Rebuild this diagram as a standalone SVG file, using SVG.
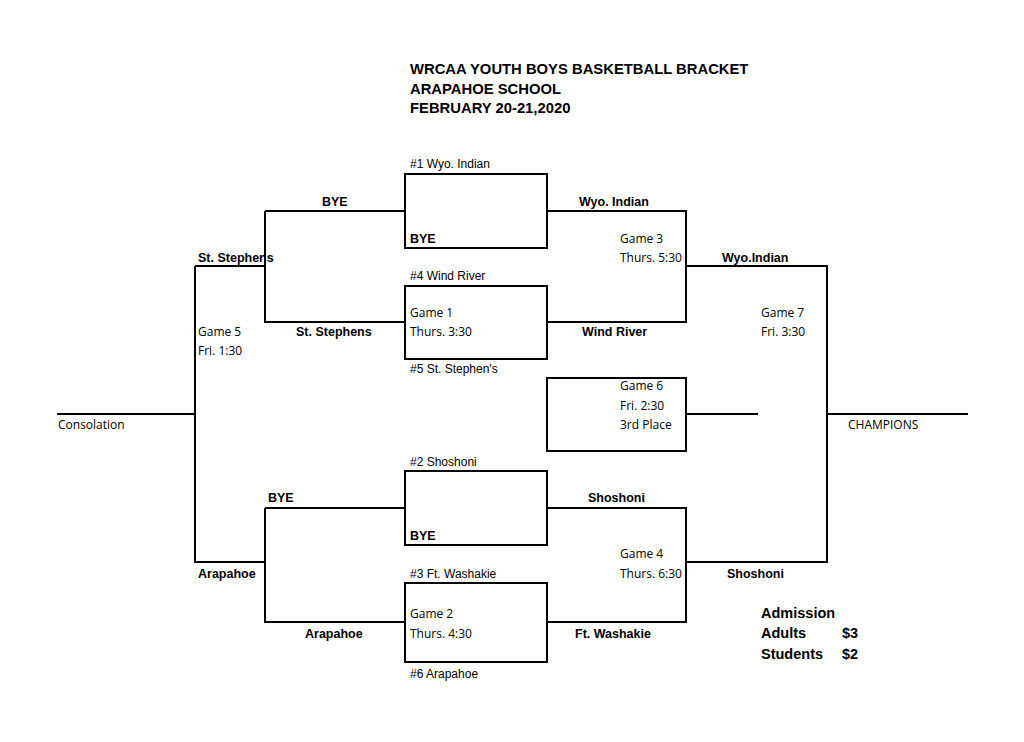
<svg xmlns="http://www.w3.org/2000/svg" width="1024" height="742" viewBox="0 0 1024 742">
<style>
text{font-family:"Liberation Sans",Arial,sans-serif;font-size:12px;fill:#000}
.b{font-weight:bold;font-size:12.5px}
.t{font-weight:bold;font-size:14.8px}
.a{font-weight:bold;font-size:14.5px}
.c{font-family:"Open Sans","Liberation Sans",sans-serif;font-size:12px}
.f{fill:none;stroke:#000;stroke-width:2}
</style>
<rect width="1024" height="742" fill="#fff"/>
<text class="t" x="410" y="74">WRCAA YOUTH BOYS BASKETBALL BRACKET</text>
<text class="t" x="410" y="94">ARAPAHOE SCHOOL</text>
<text class="t" x="410" y="113">FEBRUARY 20-21,2020</text>
<g id="boxes" class="f">
<rect x="405" y="174" width="142" height="74"/>
<rect x="405" y="286" width="142" height="73"/>
<rect x="547" y="378" width="139" height="73"/>
<rect x="405" y="471" width="142" height="74"/>
<rect x="405" y="583" width="142" height="79"/>
</g>
<g id="connectors" class="f">
<path d="M265 211H405M265 211V322H405M195 266H265M195 266V562H265M265 508H405M265 508V622H405M57 414H195"/>
<path d="M547 211H686V322H547M686 266H827V562H686M547 508H686V622H547M686 414H758M827 414H968"/>
</g>
<g id="labels">
<text x="410" y="168">#1 Wyo. Indian</text>
<text class="b" x="322" y="206">BYE</text>
<text class="b" x="579" y="206">Wyo. Indian</text>
<text class="b" x="410" y="243">BYE</text>
<text class="c" x="620" y="243">Game 3</text>
<text class="c" x="620" y="262">Thurs. 5:30</text>
<text class="b" x="722" y="262">Wyo.Indian</text>
<text class="b" x="198" y="262">St. Stephens</text>
<text x="410" y="280">#4 Wind River</text>
<text class="c" x="410" y="317">Game 1</text>
<text class="c" x="410" y="336">Thurs. 3:30</text>
<text class="b" x="296" y="336">St. Stephens</text>
<text class="b" x="582" y="336">Wind River</text>
<text class="c" x="198" y="336">Game 5</text>
<text class="c" x="198" y="355">Fri. 1:30</text>
<text class="c" x="761" y="317">Game 7</text>
<text class="c" x="761" y="336">Fri. 3:30</text>
<text x="410" y="373">#5 St. Stephen's</text>
<text class="c" x="620" y="390">Game 6</text>
<text class="c" x="620" y="410">Fri. 2:30</text>
<text class="c" x="620" y="429">3rd Place</text>
<text class="c" x="58" y="429">Consolation</text>
<text class="c" x="848" y="429">CHAMPIONS</text>
<text x="410" y="466">#2 Shoshoni</text>
<text class="b" x="268" y="502">BYE</text>
<text class="b" x="588" y="502">Shoshoni</text>
<text class="b" x="410" y="540">BYE</text>
<text class="c" x="620" y="558">Game 4</text>
<text class="c" x="620" y="578">Thurs. 6:30</text>
<text class="b" x="198" y="578">Arapahoe</text>
<text x="410" y="578">#3 Ft. Washakie</text>
<text class="b" x="727" y="578">Shoshoni</text>
<text class="c" x="410" y="618">Game 2</text>
<text class="c" x="410" y="638">Thurs. 4:30</text>
<text class="b" x="305" y="638">Arapahoe</text>
<text class="b" x="575" y="638">Ft. Washakie</text>
<text x="410" y="678">#6 Arapahoe</text>
<text class="a" x="761" y="618">Admission</text>
<text class="a" x="761" y="638">Adults</text>
<text class="a" x="842" y="638">$3</text>
<text class="a" x="761" y="659">Students</text>
<text class="a" x="842" y="659">$2</text>
</g>
</svg>
